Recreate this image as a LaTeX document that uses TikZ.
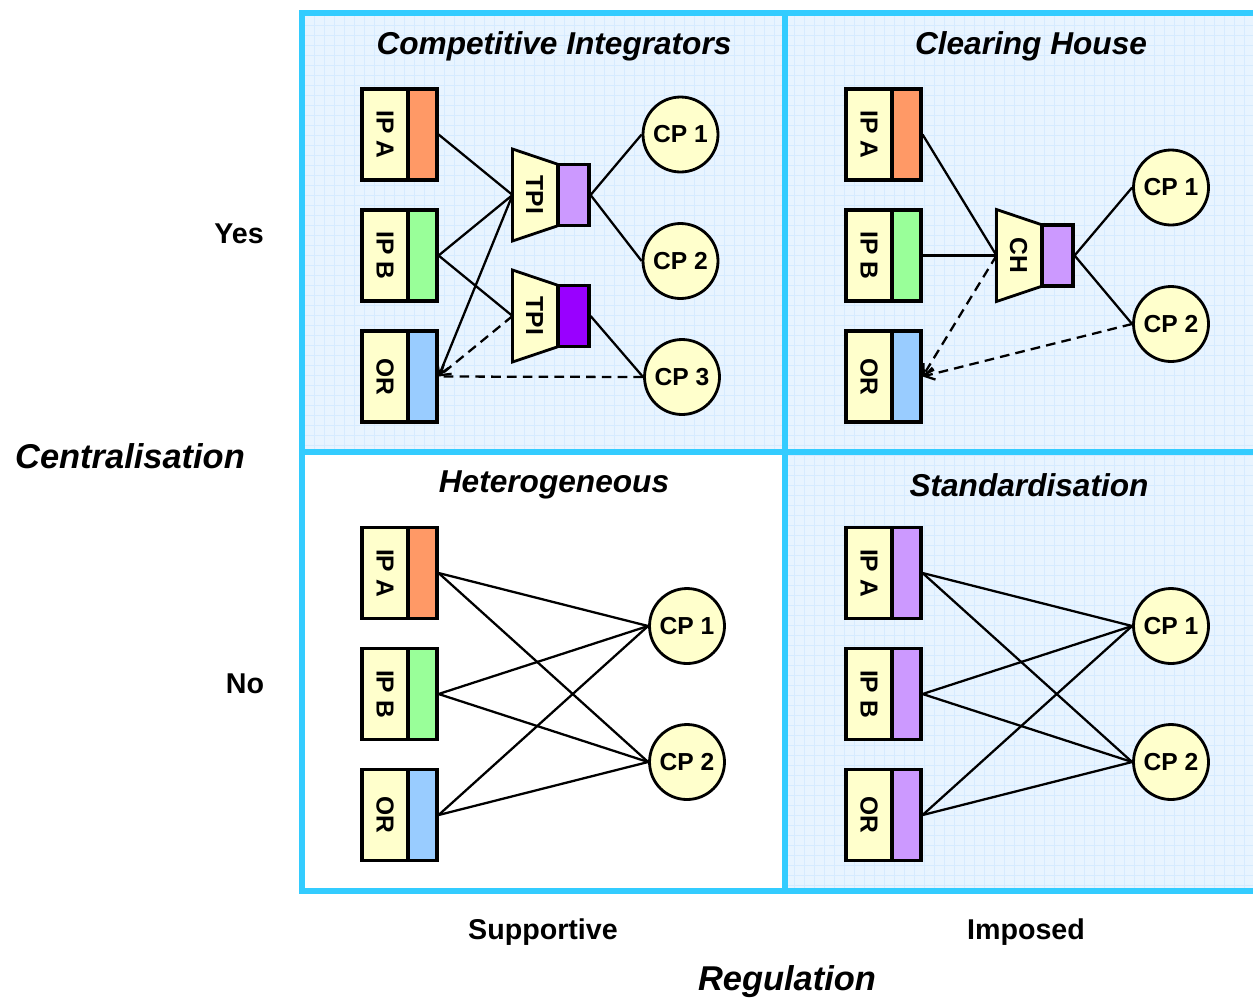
\documentclass[tikz,border=0pt]{standalone}
\usepackage{fontspec}
\setmainfont{Liberation Sans}
\usetikzlibrary{arrows.meta}

\definecolor{framecol}{HTML}{33CCFF}
\definecolor{gridbg}{HTML}{E8F4FF}
\definecolor{gridln}{HTML}{D6EBFF}
\definecolor{cream}{HTML}{FFFFCC}
\definecolor{ipacol}{HTML}{FF9966}
\definecolor{ipbcol}{HTML}{99FF99}
\definecolor{orcol}{HTML}{99CCFF}
\definecolor{lilac}{HTML}{CC99FF}
\definecolor{violetcol}{HTML}{9900FF}

% provider unit: a cream label part and a coloured tab on its right
\newcommand\ipunit[5]{% name, left x, centre y, colour, label
  \node[boxlabel] (#1l) at (#2+23,#3) {\rotatebox{-90}{#5}};
  \node[boxtab, fill=#4] (#1) at (#2+60.5,#3) {};
}
% intermediary: trapezoid with a coloured output tab
\newcommand\hubunit[5]{% name, left x, centre y, colour, label
  \draw[hubline, fill=cream] (#2,#3-46) -- (#2+46,#3-30.5) -- (#2+46,#3+30.5) -- (#2,#3+46) -- cycle;
  \coordinate (#1in) at (#2,#3);
  \node[nodefont, inner sep=0pt] (#1txt) at (#2+22,#3) {\rotatebox{-90}{#5}};
  \node[boxtab, minimum width=0.62cm, minimum height=1.22cm, fill=#4] (#1) at (#2+61,#3) {};
}

\begin{document}
\begin{tikzpicture}[x=0.02cm, y=-0.02cm,
  nodefont/.style={font=\fontsize{14}{16}\selectfont\bfseries},
  boxlabel/.style={draw, line width=1.8pt, fill=cream, minimum width=0.92cm,
    minimum height=1.82cm, inner sep=0pt, nodefont},
  boxtab/.style={draw, line width=1.8pt, minimum width=0.58cm,
    minimum height=1.82cm, inner sep=0pt},
  hubline/.style={line width=1.6pt, line join=miter},
  cp/.style={circle, draw, line width=1.6pt, fill=cream, minimum size=1.5cm,
    inner sep=0pt, nodefont},
  link/.style={line width=1.3pt},
  dlink/.style={link, dash pattern=on 5.5pt off 3.5pt},
  tip/.style={-{Straight Barb[length=5.5pt,width=7pt]}},
  quadtitle/.style={font=\fontsize{18}{20}\selectfont\bfseries\itshape},
  axislabel/.style={font=\fontsize{16.3}{18}\selectfont\bfseries},
  axistitle/.style={font=\fontsize{19.6}{22}\selectfont\bfseries\itshape},
  framelines/.style={framecol, line width=3.2pt}]

\useasboundingbox (0,0) rectangle (1253,998);

% squared paper background of three quadrants
\begin{scope}
  \clip (302,13) rectangle (1257,452) (785,452) rectangle (1257,891);
  \fill[gridbg] (290,0) rectangle (1260,900);
  \foreach \gx in {304,314,...,1254} \draw[gridln, line width=0.5pt] (\gx,0) -- (\gx,900);
  \foreach \gy in {15,25,...,895} \draw[gridln, line width=0.5pt] (290,\gy) -- (1260,\gy);
\end{scope}

% quadrant frame
\draw[framelines] (302,13) rectangle (1257,891);
\draw[framelines] (785,13) -- (785,891);
\draw[framelines] (302,452) -- (1257,452);

% quadrant titles
\node[quadtitle] (tci) at (554,46) {Competitive Integrators};
\node[quadtitle] (tch) at (1031,46) {Clearing House};
\node[quadtitle] (the) at (554,485) {Heterogeneous};
\node[quadtitle] (tst) at (1029,485) {Standardisation};

% axes
\node[axislabel] (yes) at (239,234) {Yes};
\node[axislabel] (no) at (245,684) {No};
\node[axistitle] (cen) at (130,456) {Centralisation};
\node[axislabel] (sup) at (543,932) {Supportive};
\node[axislabel] (imp) at (1026,932) {Imposed};
\node[axistitle] (reg) at (787,982) {Regulation};

% ---------- Competitive Integrators ----------
\ipunit{ciA}{362}{134.5}{ipacol}{IP A}
\ipunit{ciB}{362}{255.5}{ipbcol}{IP B}
\ipunit{ciR}{362}{376.5}{orcol}{OR}
\hubunit{tpa}{512.5}{195}{lilac}{TPI}
\hubunit{tpb}{512.5}{316}{violetcol}{TPI}
\node[cp] (ciC1) at (680.5,134.5) {CP 1};
\node[cp] (ciC2) at (680.5,261) {CP 2};
\node[cp] (ciC3) at (682,377) {CP 3};

\draw[link] (ciA.east) -- (tpain);
\draw[link] (ciB.east) -- (tpain);
\draw[link] (ciB.east) -- (tpbin);
\draw[link, tip] (tpain) -- (ciR.east);
\draw[dlink, tip] (tpbin) -- (ciR.east);
\draw[dlink] (ciC3.west) -- (ciR.east);
\draw[link] (tpa.east) -- (ciC1.west);
\draw[link] (tpa.east) -- (ciC2.west);
\draw[link] (tpb.east) -- (ciC3.west);

% ---------- Clearing House ----------
\ipunit{chA}{846}{134.5}{ipacol}{IP A}
\ipunit{chB}{846}{255.5}{ipbcol}{IP B}
\ipunit{chR}{846}{376.5}{orcol}{OR}
\hubunit{chh}{996.5}{255.5}{lilac}{CH}
\node[cp] (chC1) at (1171,187.5) {CP 1};
\node[cp] (chC2) at (1171,324) {CP 2};

\draw[link] (chA.east) -- (chhin);
\draw[link] (chB.east) -- (chhin);
\draw[dlink, tip] (chhin) -- (chR.east);
\draw[dlink, tip] (chC2.west) -- (chR.east);
\draw[link] (chh.east) -- (chC1.west);
\draw[link] (chh.east) -- (chC2.west);

% ---------- Heterogeneous ----------
\ipunit{heA}{362}{573}{ipacol}{IP A}
\ipunit{heB}{362}{694}{ipbcol}{IP B}
\ipunit{heR}{362}{815}{orcol}{OR}
\node[cp] (heC1) at (687,626) {CP 1};
\node[cp] (heC2) at (687,762) {CP 2};
\foreach \src in {heA,heB,heR}
  \foreach \dst in {heC1,heC2}
    \draw[link] (\src.east) -- (\dst.west);

% ---------- Standardisation ----------
\ipunit{stA}{846}{573}{lilac}{IP A}
\ipunit{stB}{846}{694}{lilac}{IP B}
\ipunit{stR}{846}{815}{lilac}{OR}
\node[cp] (stC1) at (1171,626) {CP 1};
\node[cp] (stC2) at (1171,762) {CP 2};
\foreach \src in {stA,stB,stR}
  \foreach \dst in {stC1,stC2}
    \draw[link] (\src.east) -- (\dst.west);

\end{tikzpicture}
\end{document}
